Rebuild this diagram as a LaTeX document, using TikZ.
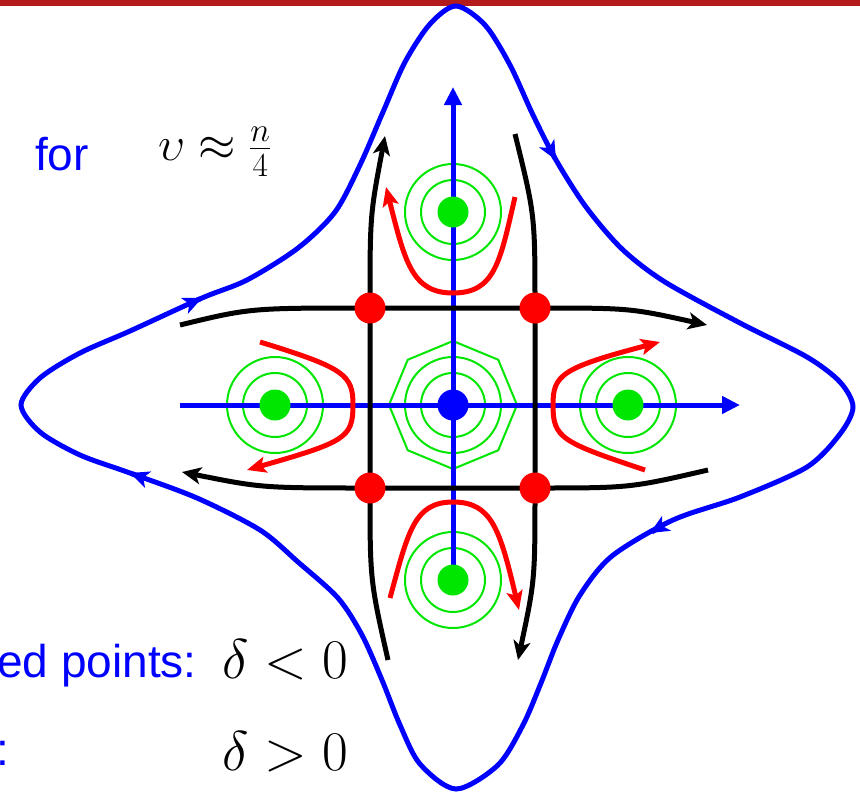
\RequirePackage{fix-cm}
\documentclass[tikz,border=0pt]{standalone}
\usepackage{fontspec}
\newfontfamily\arialfont{Liberation Sans}
\usetikzlibrary{arrows.meta}

\begin{document}
\begin{tikzpicture}[x=1pt, y=-1pt]
    \definecolor{barColour}{HTML}{B31B1B}
    \definecolor{flowBlue}{HTML}{0000FF}
    \definecolor{flowRed}{HTML}{FF0000}
    \definecolor{centreGreen}{HTML}{00E600}

    \tikzset{
        orbit/.style={flowBlue, line width=5pt},
        orbitTip/.style={flowBlue, line width=5pt, -{Stealth[length=19pt, width=17pt, inset=5pt]}},
        axis/.style={flowBlue, line width=5pt, -{Triangle[length=18pt, width=17pt]}},
        separatrix/.style={black, line width=5pt, -{Stealth[length=19pt, width=17pt, inset=5pt]}},
        escape/.style={flowRed, line width=5pt, -{Stealth[length=19pt, width=16pt, inset=4pt]}},
        ring/.style={centreGreen, line width=2pt},
    }

    \def\dotRadius{15.5}

    \useasboundingbox (0,0) rectangle (860,793);
    \clip (0,0) rectangle (860,793);

    % Title bar
    \fill[barColour] (0,0) rectangle (860,6);

    % Outer orbit
    \draw[orbit] plot[smooth cycle, tension=0.5] coordinates {
        (456,6) (485,25) (510,65) (533,115) (556,160) (586,207) (622,249)
        (665,282) (740,323) (807,357) (840,382) (853,407) (840,434) (807,467)
        (740,497) (673,520) (612,556) (580,595) (558,640) (541,683) (523,725)
        (498,765) (456,789) (420,764) (400,725) (382,680) (362,635) (338,598)
        (298,562) (260,530) (197,498) (130,473) (80,455) (40,432) (21,405)
        (40,378) (80,353) (130,331) (202,298) (247,280) (298,248) (335,212)
        (360,165) (383,112) (405,62) (430,24)};
    \draw[orbitTip] (555.0,158.2) -- (556,160);
    \draw[orbitTip] (651.7,532.0) -- (650,533);
    \draw[orbitTip] (131.9,473.7) -- (130,473);
    \draw[orbitTip] (200.2,298.8) -- (202,298);

    % Fixed points
    \coordinate (C) at (453,405);
    \coordinate (N) at (453,212);
    \coordinate (W) at (275,405);
    \coordinate (E) at (628,405);
    \coordinate (S) at (453,580);
    \coordinate (S1) at (370,308);
    \coordinate (S2) at (535,308);
    \coordinate (S3) at (370,488);
    \coordinate (S4) at (535,488);

    % Level rings round the centres
    \foreach \p in {C,N,W,E,S} {
        \draw[ring] (\p) circle (32);
        \draw[ring] (\p) circle (48);
    }
    \draw[ring, shift={(453,405)}] (90:64) \foreach \a in {135,180,...,405} { -- (\a:64)} -- cycle;

    % Axes
    \coordinate (axisW) at (180,405);
    \coordinate (axisE) at (740,405);
    \coordinate (axisN) at (453,87);
    \draw[axis] (axisW) -- (axisE);
    \draw[axis] (S) -- (axisN);

    % Separatrices
    \coordinate (topW) at (180,325);
    \coordinate (topE) at (707,325);
    \coordinate (botW) at (182,472);
    \coordinate (botE) at (708,470);
    \coordinate (leftN) at (385,136);
    \coordinate (leftS) at (388,660);
    \coordinate (rightN) at (515,134);
    \coordinate (rightS) at (518,660);
    \draw[separatrix] (topW) .. controls (250,308) .. (S1) -- (S2) .. controls (630,308) .. (topE);
    \draw[separatrix] (botE) .. controls (630,488) .. (S4) -- (S3) .. controls (262,488) .. (botW);
    \draw[separatrix] (leftS) .. controls (370,580) .. (S3) -- (S1) .. controls (370,215) .. (leftN);
    \draw[separatrix] (rightN) .. controls (535,215) .. (S2) -- (S4) .. controls (535,580) .. (rightS);

    % Escaping trajectories
    \draw[escape] (515,197) .. controls (500,262) and (495,293) .. (453,293)
        .. controls (412,293) and (405,262) .. (386,187);
    \draw[escape] (390,598) .. controls (408,532) and (414,502) .. (453,502)
        .. controls (492,502) and (500,530) .. (519,610);
    \draw[escape] (260,342) .. controls (345,368) and (353,375) .. (353,405)
        .. controls (353,438) and (345,442) .. (247,470);
    \draw[escape] (645,470) .. controls (561,442) and (553,438) .. (553,405)
        .. controls (553,375) and (561,368) .. (660,342);

    % Dots
    \foreach \p in {N,W,E,S}
        \fill[centreGreen] (\p) circle (\dotRadius);
    \fill[flowBlue] (C) circle (\dotRadius);
    \foreach \p in {S1,S2,S3,S4}
        \fill[flowRed] (\p) circle (\dotRadius);

    % Labels
    \node[anchor=base west, inner sep=0, text=flowBlue] (forLabel) at (35,170)
        {\arialfont\fontsize{46}{55}\selectfont for};
    \node[anchor=base west, inner sep=0] (nuLabel) at (158,160)
        {\fontsize{48}{58}\selectfont $\upsilon\approx\frac{n}{4}$};
    \node[anchor=base east, inner sep=0, text=flowBlue] (saddleLabel) at (197,677)
        {\arialfont\fontsize{46}{55}\selectfont ed points:};
    \node[anchor=base west, inner sep=0, text=flowBlue] (centreLabel) at (-4,765)
        {\arialfont\fontsize{46}{55}\selectfont :};
    \node[anchor=base west, inner sep=0] (saddleCond) at (222,678)
        {\fontsize{56}{67}\selectfont $\delta<0$};
    \node[anchor=base west, inner sep=0] (centreCond) at (222,770)
        {\fontsize{56}{67}\selectfont $\delta>0$};
\end{tikzpicture}
\end{document}
